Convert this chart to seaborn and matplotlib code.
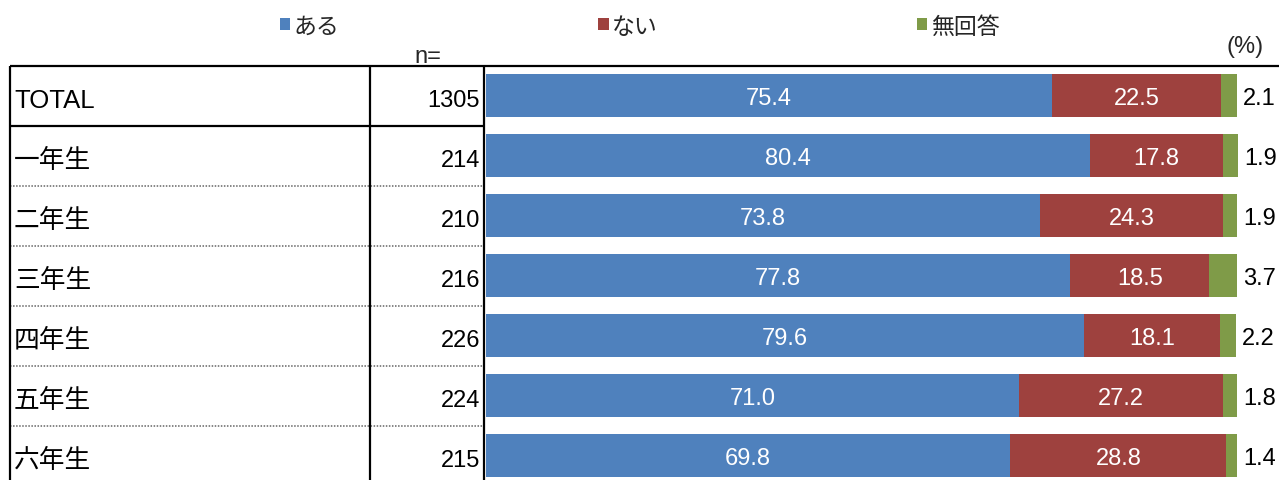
import numpy as np
import pandas as pd
import matplotlib
matplotlib.use("Agg")
import matplotlib.pyplot as plt
from matplotlib.patches import Patch
import seaborn as sns

# -----------------------------
# Data
# -----------------------------
categories = ["TOTAL", "一年生", "二年生", "三年生", "四年生", "五年生", "六年生"]
n_values = [1305, 214, 210, 216, 226, 224, 215]
aru = [75.4, 80.4, 73.8, 77.8, 79.6, 71.0, 69.8]
nai = [22.5, 17.8, 24.3, 18.5, 18.1, 27.2, 28.8]
mukaito = [2.1, 1.9, 1.9, 3.7, 2.2, 1.8, 1.4]
series_names = ["ある", "ない", "無回答"]
colors = ["#4F81BD", "#9E413E", "#7F9B48"]

df = pd.DataFrame({"cat": categories, "n": n_values,
                   "aru": aru, "nai": nai, "muka": mukaito})
df["c1"] = df["aru"]
df["c2"] = df["aru"] + df["nai"]
df["c3"] = df["c2"] + df["muka"]

# -----------------------------
# Style
# -----------------------------
sns.set_theme(style="white")
plt.rcParams["font.family"] = ["Liberation Sans", "Noto Sans CJK JP", "DejaVu Sans"]

W, H = 1279, 481
fig = plt.figure(figsize=(W / 100, H / 100), dpi=100)
ax = fig.add_axes([0, 0, 1, 1])

# layout in pixels -> data units (bar axis 0..100 spans px 486..1237)
px0, px100 = 486, 1237
ppu = (px100 - px0) / 100.0
row_px, row0_px = 60.0, 96.5


def xd(px):
    return (px - px0) / ppu


def yd(py):
    return (py - row0_px) / row_px


# stacked bars drawn back to front
for col, color in zip(["c3", "c2", "c1"], colors[::-1]):
    sns.barplot(data=df, x=col, y="cat", color=color, saturation=1,
                width=0.72, orient="h", errorbar=None, edgecolor="none",
                linewidth=0, ax=ax)

ax.set_xlim(xd(0), xd(W))
ax.set_ylim(yd(H), yd(0))
ax.axis("off")

# value labels
dy_val = 0.05
for i, r in df.iterrows():
    ax.text(r["aru"] / 2, i + dy_val, f"{r['aru']:.1f}", color="white",
            fontsize=17, ha="center", va="center")
    ax.text(r["aru"] + r["nai"] / 2, i + dy_val, f"{r['nai']:.1f}",
            color="white", fontsize=17, ha="center", va="center")
    ax.text(r["c3"] + 0.8, i + dy_val, f"{r['muka']:.1f}", color="black",
            fontsize=17, ha="left", va="center")

# table on the left
nrows = len(categories)
x_left, x_mid, x_right = xd(10), xd(370), xd(484)
for i, r in df.iterrows():
    ax.text(xd(14), i + 0.07, r["cat"], fontsize=18.5, ha="left", va="center",
            color="black")
    ax.text(xd(480), i + 0.07, str(r["n"]), fontsize=17, ha="right",
            va="center", color="black")

ax.plot([x_left, xd(W)], [-0.5, -0.5], color="black", lw=1.6, solid_capstyle="butt")
ax.plot([x_left, x_right], [0.5, 0.5], color="black", lw=1.6, solid_capstyle="butt")
for k in range(2, nrows):
    ax.plot([x_left, x_right], [k - 0.5, k - 0.5], color="#666666", lw=1.1,
            linestyle=(0, (1, 1)))
for xv in [x_left, x_mid, x_right]:
    ax.plot([xv, xv], [-0.5, nrows + 0.5], color="black", lw=1.6,
            solid_capstyle="butt")

ax.text(xd(428), yd(57), "n=", fontsize=17, ha="center", va="center")
ax.text(xd(1245), yd(47), "(%)", fontsize=17, ha="center", va="center")

# legend
handles = [Patch(facecolor=c, edgecolor="none") for c in colors]
ax.legend(handles, series_names, ncol=3, frameon=False, fontsize=16.5,
          loc="center left", bbox_to_anchor=(280 / W, 1 - 27 / H),
          bbox_transform=fig.transFigure, borderpad=0, borderaxespad=0,
          handlelength=0.45, handleheight=0.45, handletextpad=0.15,
          columnspacing=11.3)

plt.savefig("out.png", dpi=100)
plt.close()
